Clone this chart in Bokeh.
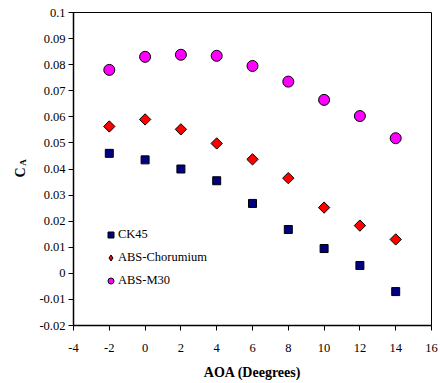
import math
from bokeh.plotting import figure
from bokeh.layouts import row
from bokeh.models import ColumnDataSource, Legend, LegendItem, Label, FixedTicker
from bokeh.embed import file_html
from bokeh.resources import INLINE

# Axial force coefficient vs angle of attack for three materials
aoa = [-2, 0, 2, 4, 6, 8, 10, 12, 14]
ck45 = [0.046, 0.0435, 0.040, 0.0355, 0.0268, 0.0168, 0.0095, 0.003, -0.007]
abs_chromium = [0.0563, 0.059, 0.0552, 0.0498, 0.0437, 0.0365, 0.0252, 0.0183, 0.013]
abs_m30 = [0.078, 0.083, 0.0838, 0.0834, 0.0795, 0.0735, 0.0665, 0.0603, 0.0518]

x_ticks = [-4, -2, 0, 2, 4, 6, 8, 10, 12, 14, 16]
y_ticks = [-0.02, -0.01, 0, 0.01, 0.02, 0.03, 0.04, 0.05, 0.06, 0.07, 0.08, 0.09, 0.1]
x_tick_labels = {v: str(v) for v in x_ticks}
y_tick_labels = {v: ("0" if v == 0 else f"{v:g}") for v in y_ticks}

FONT = "Liberation Serif"
TITLE_W = 33

# narrow strip holding the rotated y-axis title "C" with subscript "A"
# (its frame is aligned with the main plot's frame by the row layout)
side = figure(width=TITLE_W, height=383, output_backend="svg", toolbar_location=None,
              x_range=(0, 1), y_range=(0, 1), x_axis_type=None, y_axis_type=None,
              min_border=0)
side.outline_line_color = None
side.background_fill_color = "white"
side.border_fill_color = "white"
side.xgrid.visible = False
side.ygrid.visible = False
side.add_layout(Label(x=20, y=153, x_units="screen", y_units="screen", text="C",
                      angle=math.pi / 2, text_font=FONT, text_font_size="14px",
                      text_font_style="bold", text_align="center", text_baseline="middle",
                      text_color="black"))
side.add_layout(Label(x=22, y=163, x_units="screen", y_units="screen", text="A",
                      angle=math.pi / 2, text_font=FONT, text_font_size="9px",
                      text_font_style="bold", text_align="center", text_baseline="middle",
                      text_color="black"))

p = figure(width=440 - TITLE_W, height=383, output_backend="svg", toolbar_location=None,
           x_range=(-4, 16), y_range=(-0.02, 0.1),
           min_border_left=73 - TITLE_W, min_border_right=9, min_border_top=12,
           min_border_bottom=58)
p.background_fill_color = "white"
p.border_fill_color = "white"
p.outline_line_color = "black"
p.outline_line_width = 1
p.xgrid.visible = False
p.ygrid.visible = False

for ax in (p.xaxis[0], p.yaxis[0]):
    ax.axis_line_color = "black"
    ax.axis_line_width = 1.5
    ax.major_tick_line_color = "black"
    ax.major_tick_out = 5
    ax.major_tick_in = 0
    ax.minor_tick_line_color = None
    ax.major_label_text_font = FONT
    ax.major_label_text_font_size = "12.5px"
    ax.major_label_text_color = "black"

p.xaxis.ticker = FixedTicker(ticks=x_ticks)
p.yaxis.ticker = FixedTicker(ticks=y_ticks)
p.xaxis.major_label_overrides = x_tick_labels
p.yaxis.major_label_overrides = y_tick_labels
p.xaxis.major_label_standoff = 13
p.yaxis.major_label_standoff = 3

p.xaxis.axis_label = "AOA (Deegrees)"
p.xaxis.axis_label_text_font = FONT
p.xaxis.axis_label_text_font_size = "14px"
p.xaxis.axis_label_text_font_style = "bold"
p.xaxis.axis_label_text_color = "black"
p.xaxis.axis_label_standoff = 10

src = ColumnDataSource(dict(x=aoa, ck=ck45, cr=abs_chromium, m30=abs_m30))

r_ck = p.scatter("x", "ck", source=src, marker="square", size=8,
                 fill_color="#000080", line_color="black", line_width=1)
r_cr = p.scatter("x", "cr", source=src, marker="square", size=8, angle=math.pi / 4,
                 fill_color="#ff0000", line_color="black", line_width=1)
r_m30 = p.scatter("x", "m30", source=src, marker="circle", size=11,
                  fill_color="#ff00ff", line_color="black", line_width=1)

# hidden diamond renderer used only as the legend key (legend keys are drawn unrotated)
key_cr = p.scatter("x", "cr", source=src, marker="diamond", fill_color="#ff0000",
                   line_color="black", line_width=1, visible=False)

legend = Legend(items=[LegendItem(label="CK45", renderers=[r_ck]),
                       LegendItem(label="ABS-Chorumium", renderers=[key_cr]),
                       LegendItem(label="ABS-M30", renderers=[r_m30])],
                location=(30, 35), border_line_color=None, background_fill_alpha=0,
                label_text_font=FONT, label_text_font_size="12.5px",
                label_text_color="black",
                glyph_width=15, glyph_height=17, label_standoff=0,
                spacing=3, padding=4, label_height=20)
p.add_layout(legend)

layout = row(side, p, spacing=0)
open("out.html", "w").write(file_html(layout, INLINE))
